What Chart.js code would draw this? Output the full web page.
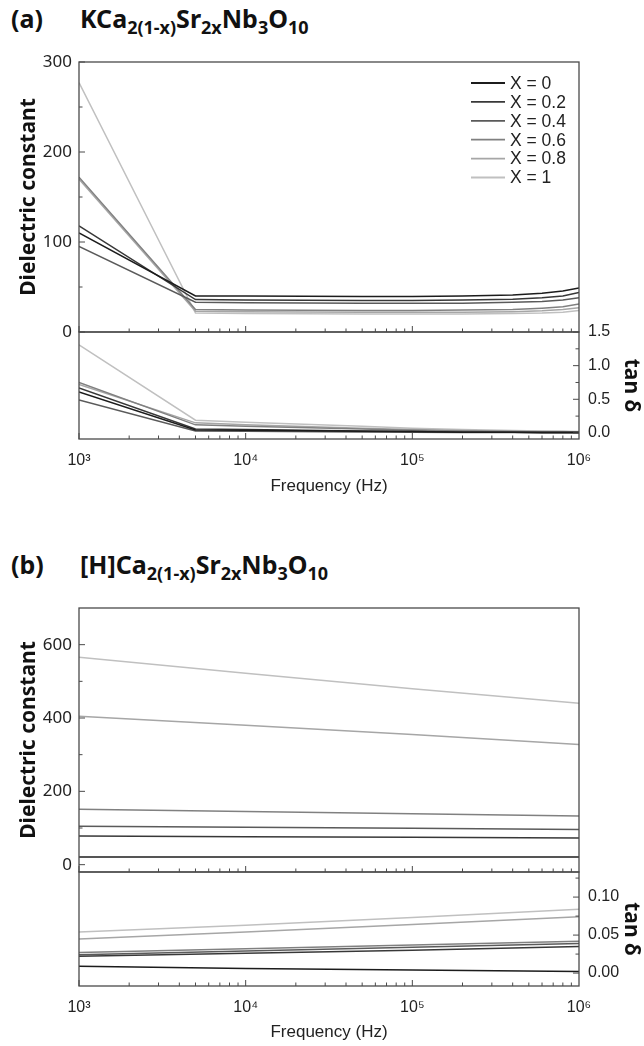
<!DOCTYPE html>
<html>
<head>
<meta charset="utf-8">
<script src="https://cdn.jsdelivr.net/npm/chart.js@4.4.0/dist/chart.umd.min.js"></script>
<style>
  body { margin: 0; background: #fff; width: 644px; height: 1046px; position: relative; overflow: hidden; }
  canvas { position: absolute; left: 0; }
  .ttl { position: absolute; font-family: "Noto Sans", sans-serif; font-weight: bold; font-size: 25px; color: #111; white-space: nowrap; line-height: 30px; }
  .ttl sub { font-size: 18px; vertical-align: -6px; line-height: 0; }
</style>
</head>
<body>
<div class="ttl" style="left:11px; top:3px">(a)</div>
<div class="ttl" style="left:80px; top:3px">KCa<sub>2(1-x)</sub>Sr<sub>2x</sub>Nb<sub>3</sub>O<sub>10</sub></div>
<div class="ttl" style="left:11px; top:549px">(b)</div>
<div class="ttl" style="left:80px; top:549px">[H]Ca<sub>2(1-x)</sub>Sr<sub>2x</sub>Nb<sub>3</sub>O<sub>10</sub></div>

<canvas id="aTop" width="644" height="352" style="top:0px"></canvas>
<canvas id="aBot" width="644" height="190" style="top:312px"></canvas>
<canvas id="bTop" width="644" height="304" style="top:588px"></canvas>
<canvas id="bBot" width="644" height="194" style="top:852px"></canvas>

<script>
const seriesLabels = ['X = 0', 'X = 0.2', 'X = 0.4', 'X = 0.6', 'X = 0.8', 'X = 1'];
const seriesColors = ['#1c1c1c', '#383838', '#5a5a5a', '#808080', '#a6a6a6', '#c0c0c0'];

// (a) KCa2(1-x)Sr2xNb3O10
const freqA = [1e3, 5e3, 1e4, 5e4, 1e5, 2e5, 4e5, 6e5, 8e5, 1e6];
const aEpsX0  = [110, 40, 40, 39.5, 39.5, 40, 41, 43, 45.5, 49];
const aEpsX02 = [118, 36, 35.5, 35, 35, 35.5, 36.5, 38, 40, 44];
const aEpsX04 = [95, 33, 32.5, 32, 32, 32, 33, 34, 35.5, 38];
const aEpsX06 = [172, 25, 24.5, 24, 24, 24.5, 25, 26.5, 28, 31];
const aEpsX08 = [170, 23, 22.5, 22, 22, 22, 22.5, 23.5, 25, 27];
const aEpsX1  = [277, 21, 20.5, 20, 20, 20, 20.5, 21, 22, 24];

const aTanX0  = [0.61, 0.045, 0.04, 0.025, 0.02, 0.01, 0.01, 0.005, 0.005, 0.005];
const aTanX02 = [0.67, 0.06, 0.05, 0.03, 0.02, 0.015, 0.01, 0.01, 0.01, 0.01];
const aTanX04 = [0.49, 0.03, 0.025, 0.015, 0.01, 0.005, 0.005, 0, 0, 0];
const aTanX06 = [0.75, 0.12, 0.10, 0.06, 0.04, 0.03, 0.02, 0.015, 0.015, 0.01];
const aTanX08 = [0.72, 0.15, 0.12, 0.07, 0.05, 0.035, 0.025, 0.02, 0.02, 0.015];
const aTanX1  = [1.31, 0.19, 0.16, 0.10, 0.07, 0.05, 0.035, 0.03, 0.025, 0.02];

// (b) [H]Ca2(1-x)Sr2xNb3O10
const freqB = [1e3, 1e4, 1e5, 1e6];
const bEpsX0  = [21, 21, 21, 21];
const bEpsX02 = [78, 76, 75, 73];
const bEpsX04 = [105, 102, 99, 96];
const bEpsX06 = [151, 145, 139, 133];
const bEpsX08 = [405, 380, 355, 328];
const bEpsX1  = [566, 522, 480, 440];

const bTanX0  = [0.009, 0.006, 0.004, 0.002];
const bTanX02 = [0.022, 0.026, 0.030, 0.035];
const bTanX04 = [0.024, 0.029, 0.034, 0.039];
const bTanX06 = [0.027, 0.032, 0.037, 0.042];
const bTanX08 = [0.045, 0.054, 0.064, 0.074];
const bTanX1  = [0.054, 0.063, 0.073, 0.084];

// axis ticks
const freqTicks = [1e3, 1e4, 1e5, 1e6];
const aEpsTicks = [0, 100, 200, 300];
const aEpsMinor = [50, 150, 250];
const aTanTicks = [0, 0.5, 1.0, 1.5];
const aTanMinor = [0.25, 0.75, 1.25];
const bEpsTicks = [0, 200, 400, 600];
const bEpsMinor = [100, 300, 500];
const bTanTicks = [0, 0.05, 0.10];
const bTanMinor = [0.025, 0.075, 0.125];

const sup = { 3: '\u00b3', 4: '\u2074', 5: '\u2075', 6: '\u2076' };

function datasets(freqs, list) {
  return list.map((vals, i) => ({
    label: seriesLabels[i],
    data: freqs.map((f, j) => ({ x: f, y: vals[j] })),
    borderColor: seriesColors[i],
    borderWidth: 1.5,
    pointRadius: 0,
    tension: 0,
    fill: false
  }));
}

// frame, inward ticks and legend
const panelPlugin = {
  id: 'panel',
  afterDatasetsDraw(chart, args, opts) {
    const { ctx, chartArea: a, scales } = chart;
    ctx.save();
    ctx.strokeStyle = '#4a4a4a';
    ctx.lineWidth = 1.3;
    ctx.strokeRect(a.left, a.top, a.right - a.left, a.bottom - a.top);

    ctx.lineWidth = 1;
    ctx.beginPath();
    for (let e = 3; e < 6; e++) {
      for (let m = 1; m < 10; m++) {
        const px = scales.x.getPixelForValue(m * Math.pow(10, e));
        const len = m === 1 ? 6 : 3.5;
        ctx.moveTo(px, a.bottom);
        ctx.lineTo(px, a.bottom - len);
      }
    }
    const ys = scales.y;
    const edge = opts.side === 'left' ? a.left : a.right;
    const dir = opts.side === 'left' ? 1 : -1;
    opts.major.forEach(v => {
      const py = ys.getPixelForValue(v);
      ctx.moveTo(edge, py); ctx.lineTo(edge + dir * 6, py);
    });
    opts.minor.forEach(v => {
      const py = ys.getPixelForValue(v);
      ctx.moveTo(edge, py); ctx.lineTo(edge + dir * 3.5, py);
    });
    ctx.stroke();

    if (opts.legend) {
      const L = opts.legend;
      ctx.font = '17.5px "Liberation Sans", Arial, sans-serif';
      ctx.textBaseline = 'middle';
      ctx.fillStyle = '#222';
      chart.data.datasets.forEach((ds, i) => {
        const col = Math.floor(i / L.rows);
        const row = i % L.rows;
        const x = L.x[col];
        const y = L.y + row * L.dy;
        ctx.strokeStyle = ds.borderColor;
        ctx.lineWidth = 1.8;
        ctx.beginPath();
        ctx.moveTo(x, y); ctx.lineTo(x + L.len, y);
        ctx.stroke();
        ctx.fillText(ds.label, x + L.len + 5, y + 1);
      });
    }
    ctx.restore();
  }
};

function xAxis(labels, height, titlePad) {
  return {
    type: 'logarithmic',
    min: 1e3,
    max: 1e6,
    display: labels,
    grid: { display: false, drawTicks: false },
    border: { display: false },
    afterBuildTicks: s => { s.ticks = freqTicks.map(v => ({ value: v })); },
    afterFit: s => { s.height = height; },
    ticks: {
      autoSkip: false,
      maxRotation: 0,
      padding: 12,
      color: '#222',
      font: { family: '"Liberation Sans", Arial, sans-serif', size: 16 },
      callback: v => '10' + sup[Math.round(Math.log10(v))]
    },
    title: {
      display: labels,
      text: 'Frequency (Hz)',
      color: '#222',
      font: { family: '"Liberation Sans", Arial, sans-serif', size: 17 },
      padding: { top: 0, bottom: titlePad }
    }
  };
}

function yAxis(side, min, max, tickVals, decimals, title, width) {
  const left = side === 'left';
  return {
    type: 'linear',
    position: side,
    min: min,
    max: max,
    grid: { display: false, drawTicks: false },
    border: { display: false },
    afterBuildTicks: s => { s.ticks = tickVals.map(v => ({ value: v })); },
    afterFit: s => { s.width = width; },
    ticks: {
      padding: left ? 7 : 9,
      color: '#222',
      font: left ? { family: '"Noto Sans", sans-serif', size: 17 } : { family: '"Liberation Sans", Arial, sans-serif', size: 16 },
      callback: v => v.toFixed(decimals)
    },
    title: {
      display: true,
      text: title,
      color: '#111',
      font: { family: '"Noto Sans", sans-serif', size: 21, weight: 'bold' },
      padding: { top: left ? 16 : 0, bottom: 0 }
    }
  };
}

function makeChart(id, sets, x, y, padding, plug) {
  return new Chart(document.getElementById(id), {
    type: 'line',
    data: { datasets: sets },
    options: {
      responsive: false,
      animation: false,
      devicePixelRatio: 1,
      layout: { padding: padding },
      scales: { x: x, y: y },
      plugins: { legend: { display: false }, tooltip: { enabled: false }, panel: plug }
    },
    plugins: [panelPlugin]
  });
}

makeChart('aTop',
  datasets(freqA, [aEpsX0, aEpsX02, aEpsX04, aEpsX06, aEpsX08, aEpsX1]),
  xAxis(false, 0, 0),
  yAxis('left', 0, 300, aEpsTicks, 0, 'Dielectric constant', 79),
  { top: 62, right: 65, bottom: 20, left: 0 },
  { side: 'left', major: aEpsTicks, minor: aEpsMinor,
    legend: { rows: 6, x: [471], y: 83, dy: 18.9, len: 34 } });

makeChart('aBot',
  datasets(freqA, [aTanX0, aTanX02, aTanX04, aTanX06, aTanX08, aTanX1]),
  xAxis(true, 63, 5),
  yAxis('right', -0.09, 1.5, aTanTicks, 1, 'tan \u03b4', 65),
  { top: 20, right: 0, bottom: 0, left: 79 },
  { side: 'right', major: aTanTicks, minor: aTanMinor });

makeChart('bTop',
  datasets(freqB, [bEpsX0, bEpsX02, bEpsX04, bEpsX06, bEpsX08, bEpsX1]),
  xAxis(false, 0, 0),
  yAxis('left', -20, 700, bEpsTicks, 0, 'Dielectric constant', 79),
  { top: 20, right: 65, bottom: 20, left: 0 },
  { side: 'left', major: bEpsTicks, minor: bEpsMinor,
    legend: { rows: 3, x: [365, 477], y: 623, dy: 19.5, len: 33 } });

makeChart('bBot',
  datasets(freqB, [bTanX0, bTanX02, bTanX04, bTanX06, bTanX08, bTanX1]),
  xAxis(true, 60, 3),
  yAxis('right', -0.017, 0.133, bTanTicks, 2, 'tan \u03b4', 65),
  { top: 20, right: 0, bottom: 0, left: 79 },
  { side: 'right', major: bTanTicks, minor: bTanMinor });
</script>
</body>
</html>
